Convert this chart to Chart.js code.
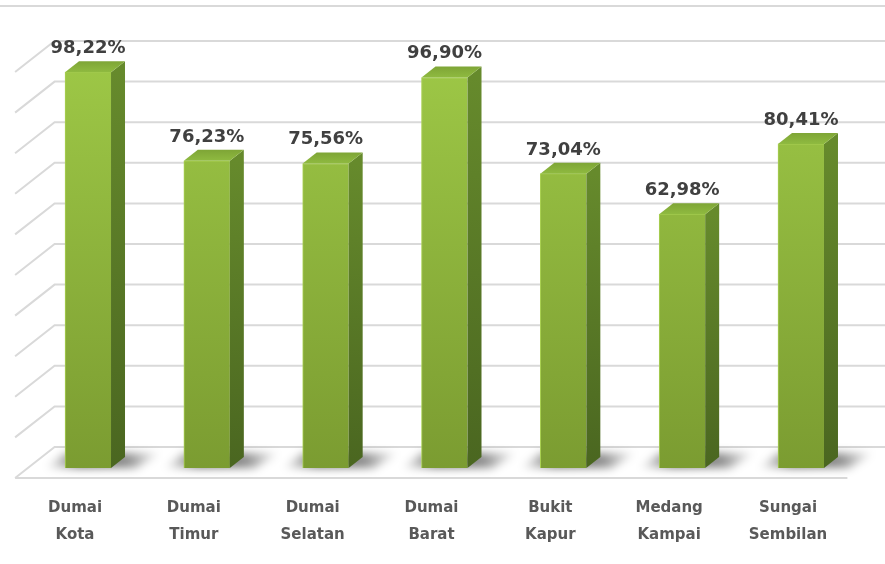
<!DOCTYPE html>
<html>
<head>
<meta charset="utf-8">
<script src="https://cdn.jsdelivr.net/npm/chart.js@4"></script>
<style>
  html, body { margin: 0; padding: 0; background: #fff; }
  #wrap { width: 885px; height: 564px; }
</style>
</head>
<body>
<div id="wrap"><canvas id="chart" width="885" height="564"></canvas></div>
<script>
// categories and values
const categories = [
  ["Dumai", "Kota"], ["Dumai", "Timur"], ["Dumai", "Selatan"], ["Dumai", "Barat"],
  ["Bukit", "Kapur"], ["Medang", "Kampai"], ["Sungai", "Sembilan"],
];
const values = [98.22, 76.23, 75.56, 96.90, 73.04, 62.98, 80.41];

const FONT = "'DejaVu Sans', sans-serif";
const GRID = "#d9d9d9";
const DEPTH_X = 14, DEPTH_Y = 11;   // bar depth

const fmt = (v) => v.toFixed(2).replace(".", ",") + "%";

// back wall, left wall, floor and shadows (drawn behind the bars)
const room = {
  id: "room",
  beforeDatasetsDraw(chart) {
    const { ctx, chartArea: a, scales: { y } } = chart;
    const W = chart.width;
    ctx.save();
    ctx.strokeStyle = GRID;
    ctx.lineWidth = 2;
    // top border line
    ctx.beginPath(); ctx.moveTo(0, 6); ctx.lineTo(W, 6); ctx.stroke();

    for (let v = y.min; v <= y.max; v += 10) {
      const p = y.getPixelForValue(v);
      const k = v / 100;
      const yb = p - 21 - 3 * k, yf = p + 10 - 3 * k;
      const xb = a.left + 26, xf = a.left - 13.5;
      ctx.beginPath();
      ctx.moveTo(xf, yf); ctx.lineTo(xb, yb); ctx.lineTo(W, yb);
      ctx.stroke();
      if (v === y.min) {
        ctx.beginPath(); ctx.moveTo(xf, yf); ctx.lineTo(a.right - 13, yf); ctx.stroke();
      }
    }

    // soft shadows on the floor
    const meta = chart.getDatasetMeta(0);
    ctx.filter = "blur(4px)";
    meta.data.forEach((bar) => {
      const L = bar.x - bar.width / 2, R = bar.x + bar.width / 2, b = bar.base;
      const g = ctx.createLinearGradient(L - 20, 0, R + 50, 0);
      g.addColorStop(0, "rgba(0,0,0,0)");
      g.addColorStop(0.3, "rgba(0,0,0,0.55)");
      g.addColorStop(0.7, "rgba(0,0,0,0.45)");
      g.addColorStop(1, "rgba(0,0,0,0)");
      ctx.fillStyle = g;
      ctx.beginPath();
      ctx.moveTo(L - 20, b);
      ctx.lineTo(R + 25, b);
      ctx.lineTo(R + 50, b - DEPTH_Y - 4);
      ctx.lineTo(L, b - DEPTH_Y - 4);
      ctx.closePath();
      ctx.fill();
    });
    ctx.restore();
  },
  // side and top faces, then the value labels
  afterDatasetsDraw(chart) {
    const { ctx } = chart;
    const meta = chart.getDatasetMeta(0);
    ctx.save();
    meta.data.forEach((bar, i) => {
      const L = bar.x - bar.width / 2, R = bar.x + bar.width / 2;
      const t = bar.y, b = bar.base;
      let g = ctx.createLinearGradient(0, t, 0, b);
      g.addColorStop(0, "#668a2c");
      g.addColorStop(1, "#4a6620");
      ctx.fillStyle = g;
      ctx.beginPath();
      ctx.moveTo(R, t); ctx.lineTo(R + DEPTH_X, t - DEPTH_Y);
      ctx.lineTo(R + DEPTH_X, b - DEPTH_Y); ctx.lineTo(R, b);
      ctx.closePath(); ctx.fill();

      g = ctx.createLinearGradient(0, t - DEPTH_Y, 0, t);
      g.addColorStop(0, "#7ea536");
      g.addColorStop(1, "#8fba40");
      ctx.fillStyle = g;
      ctx.beginPath();
      ctx.moveTo(L, t); ctx.lineTo(L + DEPTH_X, t - DEPTH_Y);
      ctx.lineTo(R + DEPTH_X, t - DEPTH_Y); ctx.lineTo(R, t);
      ctx.closePath(); ctx.fill();

      ctx.fillStyle = "#404040";
      ctx.font = "bold 18px " + FONT;
      ctx.textAlign = "center";
      ctx.textBaseline = "alphabetic";
      ctx.fillText(fmt(values[i]), bar.x, t - DEPTH_Y - 8);
    });
    ctx.restore();
  },
};

new Chart(document.getElementById("chart"), {
  type: "bar",
  data: {
    labels: categories,
    datasets: [{
      data: values,
      barThickness: 46,
      borderWidth: { left: 1, right: 0, top: 1, bottom: 0 },
      borderColor: "#a9d052",
      borderSkipped: false,
      backgroundColor: (c) => {
        const a = c.chart.chartArea;
        if (!a) return "#8db63d";
        const g = c.chart.ctx.createLinearGradient(0, a.top, 0, a.bottom);
        g.addColorStop(0, "#9dc746");
        g.addColorStop(1, "#7b9c31");
        return g;
      },
    }],
  },
  plugins: [room],
  options: {
    responsive: false,
    animation: false,
    layout: { padding: { top: 65, left: 28.6, right: 24.6, bottom: 0 } },
    plugins: { legend: { display: false }, tooltip: { enabled: false } },
    scales: {
      x: {
        grid: { display: false, drawTicks: false },
        border: { display: false },
        afterFit: (s) => { s.height = 96; },
        ticks: {
          color: "#595959",
          font: { family: FONT, size: 15, weight: "bold", lineHeight: 1.8 },
          padding: 27,
          labelOffset: -13,
          maxRotation: 0,
        },
      },
      y: { display: false, min: 0, max: 100, ticks: { stepSize: 10 } },
    },
  },
});
</script>
</body>
</html>
